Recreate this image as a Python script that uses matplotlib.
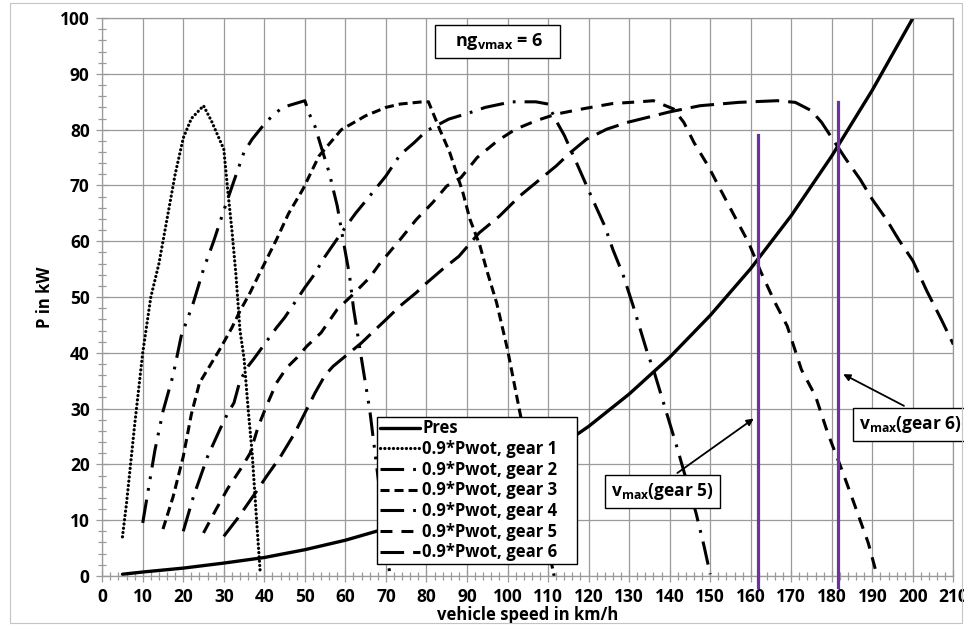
import matplotlib
matplotlib.use('Agg')
import matplotlib.pyplot as plt
from matplotlib.patches import Rectangle
from matplotlib.ticker import MultipleLocator

plt.rcParams['font.family'] = ['Open Sans', 'DejaVu Sans']
plt.rcParams['font.weight'] = 'bold'
plt.rcParams['mathtext.fontset'] = 'custom'
plt.rcParams['mathtext.bf'] = 'Open Sans:bold'
plt.rcParams['mathtext.rm'] = 'Open Sans:bold'
plt.rcParams['lines.scale_dashes'] = False

# road load power
v_res = [5, 10, 20, 30, 40, 50, 60, 70, 80, 90, 100, 110, 120, 130, 140,
         150, 160, 170, 180, 190, 200]
p_res = [0.3, 0.7, 1.4, 2.3, 3.3, 4.7, 6.4, 8.5, 11.0, 14.0, 17.6, 21.8,
         26.8, 32.6, 39.2, 46.7, 55.1, 64.6, 75.3, 87.1, 100.0]

# 0.9 * full load power per gear
v_g1 = [5, 6, 8, 10, 12, 14, 16, 18, 20, 22, 25, 27, 30, 31, 32, 33, 34,
        35, 36, 37, 38, 39]
p_g1 = [7, 13, 27, 40, 50, 56, 64, 72, 78.5, 82, 84.3, 81.5, 76.5, 69, 62,
        54, 44, 39, 30, 22, 11, 0.5]

v_g2 = [10, 13, 15, 17.5, 19.5, 22.5, 25, 27.5, 30, 32.5, 35, 37, 40, 42,
        44.5, 50, 51, 52.5, 54, 56, 58, 59.5, 61, 62, 64, 66, 68, 70, 71]
p_g2 = [9.5, 22.5, 29.5, 36, 43, 49, 55, 60, 65.5, 70.8, 76, 78.3, 81,
        82.5, 84, 85.2, 83, 80.6, 77, 72.3, 66.3, 60, 54, 48, 38.8, 29.8,
        18, 6, 0]

v_g3 = [15, 17.5, 20, 22, 24, 26, 29, 32, 34, 36.5, 39, 43, 46, 49.5,
        53.5, 59, 65, 70, 73.5, 79, 80.5, 83.3, 85.7, 87.4, 89, 90.7, 93.2,
        95, 97.3, 100, 103, 107, 111.5]
p_g3 = [8.4, 14.2, 21.4, 29, 34.6, 37, 40.6, 44.5, 47.5, 50.8, 54.5, 60.3,
        65, 69.3, 75.3, 80, 82.5, 84, 84.6, 85, 85, 80, 76, 72.3, 68.7, 64,
        59.2, 54.5, 49, 40.6, 29.5, 15.5, 0]

v_g4 = [20, 22.5, 26, 29, 31, 32.5, 34, 36, 37.5, 39.5, 43, 45, 47.5, 50,
        52, 55, 59, 62.5, 66, 70, 73.5, 77, 80, 85.5, 90.5, 94.5, 101, 107,
        110, 112, 114, 117, 119, 121, 124, 126, 128.5, 131, 134.5, 136,
        138.5, 142, 144, 146.5, 148.5, 150]
p_g4 = [8, 14.2, 21.4, 26.2, 29.2, 31, 35, 37.6, 39, 41, 44.5, 46.3, 49,
        51.7, 53.7, 57.3, 61.5, 65, 68.1, 71.7, 75.5, 77.7, 79.8, 81.9, 83,
        84, 85, 85, 84.6, 81.6, 79, 74.1, 70.8, 67.5, 62.7, 58.5, 54, 48.4,
        40, 37, 31, 22.6, 17.5, 11.3, 5.3, 0.3]

v_g5 = [25, 28, 31, 34, 36.5, 38.5, 40.5, 43, 45.5, 48, 50.5, 54, 58, 61.5,
        66, 68.5, 73.5, 77.5, 81.5, 85, 88.5, 92.5, 97.5, 102, 107, 112, 119,
        126, 132.5, 136, 141, 143.5, 146, 149.5, 152.5, 156, 159.5, 162.5,
        166, 169, 172.5, 176, 179, 182.5, 185.5, 189, 191]
p_g5 = [7.7, 11.8, 15.7, 19, 22, 26.8, 30.4, 34.6, 37.3, 39.1, 41.2, 43.6,
        47.8, 50.2, 53.5, 56, 60.3, 63.9, 66.9, 69.9, 71.4, 75, 78, 80.1,
        81.6, 82.8, 83.8, 84.7, 85, 85.2, 83.7, 81.3, 77.7, 73.5, 69.3, 64.5,
        59.7, 54.5, 49, 44.8, 37, 32.2, 25.6, 19, 13, 5.9, 0.5]

v_g6 = [30, 33.5, 38, 40.5, 44, 47.5, 50, 52.5, 55, 57, 60, 64, 67, 69.5,
        73.5, 77.5, 80, 84, 88, 93, 98, 103, 108, 112, 115.5, 119.5, 124.5,
        129.5, 134.5, 140, 147.5, 157, 166.5, 171, 175, 177.5, 180.5, 183.5,
        187, 190, 193.5, 196.5, 200, 203.5, 207, 210]
p_g6 = [7.1, 10.4, 15.1, 17.8, 21.4, 25.6, 29.2, 32.8, 36, 37.6, 39.4, 41.8,
        43.9, 45.6, 48.4, 50.8, 52.5, 55, 57.3, 61.5, 64.5, 68.1, 71.1, 73.5,
        75.9, 78.3, 80.1, 81.3, 82.2, 83.2, 84.3, 84.9, 85.2, 84.9, 83.4,
        81.3, 78, 74.7, 71.1, 67.5, 63.9, 60.3, 56.5, 51, 46, 41.5]

gear_v = [v_g1, v_g2, v_g3, v_g4, v_g5, v_g6]
gear_p = [p_g1, p_g2, p_g3, p_g4, p_g5, p_g6]
gear_labels = ['0.9*Pwot, gear %d' % g for g in range(1, 7)]

# vmax markers (gear 5, gear 6)
vmax_speed = [161.8, 181.6]
vmax_top = [79, 85]
vmax_bottom = -2

gear_dashes = [
    (0, (0.1, 3.0)),
    (0, (17, 6.5, 2, 6.5, 2, 6.5)),
    (0, (6.5, 3.6)),
    (0, (17, 6.5, 2, 6.5)),
    (0, (8.6, 6.5)),
    (0, (17, 6.5)),
]

fig = plt.figure(figsize=(9.64, 6.26), dpi=100)
ax = fig.add_axes([0.106, 0.080, 0.883, 0.891])

ax.plot(v_res, p_res, color='black', lw=2.4, label='Pres',
        solid_capstyle='round')
for i in range(6):
    cap = 'round' if i == 0 else 'butt'
    ax.plot(gear_v[i], gear_p[i], color='black', lw=2.3 if i == 0 else 2.2,
            linestyle=gear_dashes[i], dash_capstyle=cap,
            label=gear_labels[i] + '    ')

for vs, top in zip(vmax_speed, vmax_top):
    ax.plot([vs, vs], [vmax_bottom, top], color='#7030A0', lw=2.3,
            clip_on=False, zorder=4)

ax.set_xlim(0, 210)
ax.set_ylim(0, 100)
ax.xaxis.set_major_locator(MultipleLocator(10))
ax.xaxis.set_minor_locator(MultipleLocator(2))
ax.yaxis.set_major_locator(MultipleLocator(10))
ax.yaxis.set_minor_locator(MultipleLocator(2))
ax.grid(which='major', color='#9a9a9a', lw=0.9)
ax.set_axisbelow(True)
for s in ax.spines.values():
    s.set_color('#9a9a9a')
    s.set_linewidth(0.9)
ax.tick_params(which='major', direction='inout', length=8, width=0.9,
               color='#9a9a9a', labelsize=12.5, pad=5)
ax.tick_params(which='minor', direction='inout', length=6, width=0.9,
               color='#9a9a9a')
for lab in ax.get_xticklabels() + ax.get_yticklabels():
    lab.set_fontweight('bold')
ax.set_xlabel('vehicle speed in km/h', fontsize=12, fontweight='bold',
              labelpad=0)
ax.set_ylabel('P in kW', fontsize=12, fontweight='bold', labelpad=4)

leg = ax.legend(loc='upper left', bbox_to_anchor=(0.323, 0.285),
                prop={'size': 12, 'weight': 'bold'}, frameon=True,
                fancybox=False, edgecolor='black', framealpha=1,
                handlelength=2.4, handletextpad=0.15, labelspacing=0.16,
                borderpad=0.15, borderaxespad=0)
leg.get_frame().set_linewidth(1.0)
leg.set_zorder(6)

box = dict(boxstyle='square,pad=0.35', fc='white', ec='black', lw=1.0)
ax.text(97.5, 95.8, r'   $\mathbf{ng_{vmax}}$ = 6   ', fontsize=13,
        ha='center', va='center', bbox=box, zorder=7)
ax.annotate(r'$\mathbf{v_{max}}$(gear 5)', xy=(161.3, 28.5),
            xytext=(138.3, 15.1), fontsize=12.5, ha='center', va='center',
            bbox=box, zorder=7,
            arrowprops=dict(arrowstyle='-|>', color='black', lw=1.3,
                            mutation_scale=10, relpos=(0.53, 1.0)))
ax.annotate(r'$\mathbf{v_{max}}$(gear 6)', xy=(182.2, 36.4),
            xytext=(199.5, 27.2), fontsize=12.5, ha='center', va='center',
            bbox=box, zorder=7, annotation_clip=False,
            arrowprops=dict(arrowstyle='-|>', color='black', lw=1.3,
                            mutation_scale=10, relpos=(0.58, 1.0)))

fig.patches.append(Rectangle((10 / 964, 3 / 626), 952 / 964, 620 / 626,
                             transform=fig.transFigure, fill=False,
                             ec='#c4c4c4', lw=0.8))

fig.savefig('out.png', dpi=100)
